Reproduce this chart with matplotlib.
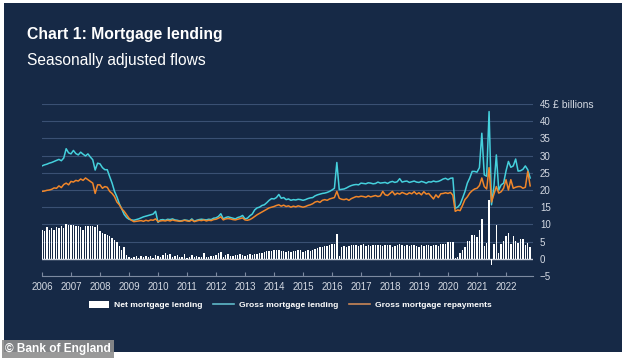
import numpy as np
import matplotlib
matplotlib.use("Agg")
from matplotlib import pyplot as plt
from matplotlib.patches import Rectangle, Patch
from matplotlib.lines import Line2D

plt.rcParams['font.family'] = ['Liberation Sans', 'DejaVu Sans']

# monthly, Jan 2006 - Nov 2022, £ billions
gross_lending = [
    27.0, 27.3, 27.5, 27.8, 28.0, 28.3, 28.6, 28.9, 28.5, 29.3, 32.0, 30.8,  # 2006
    30.5, 31.5, 30.6, 30.2, 31.0, 30.4, 29.9, 30.5, 29.6, 28.8, 25.8, 27.8,  # 2007
    27.6, 26.5, 25.9, 25.9, 23.9, 22.0, 19.6, 18.0, 16.0, 14.5, 12.9, 12.0,  # 2008
    11.5, 11.3, 11.2, 11.4, 11.6, 11.9, 12.2, 12.4, 12.6, 12.8, 13.0, 13.8,  # 2009
    10.6, 11.3, 11.4, 11.2, 11.5, 11.4, 11.6, 11.3, 11.2, 11.0, 11.1, 11.3,  # 2010
    11.2, 11.0, 11.6, 10.9, 11.2, 11.4, 11.5, 11.4, 11.3, 11.5, 11.4, 11.8,  # 2011
    11.9, 12.3, 13.1, 11.6, 12.0, 12.2, 12.0, 11.8, 11.6, 12.0, 12.2, 12.6,  # 2012
    11.6, 11.8, 12.5, 13.0, 14.2, 14.8, 15.0, 15.5, 15.7, 16.3, 17.0, 17.5,  # 2013
    17.4, 17.8, 18.7, 17.6, 17.8, 17.2, 17.4, 17.0, 17.2, 17.1, 17.3, 17.2,  # 2014
    17.0, 17.2, 17.5, 17.7, 17.8, 18.3, 18.6, 18.8, 19.0, 19.1, 19.3, 19.6,  # 2015
    20.0, 20.5, 28.0, 20.1, 20.2, 20.3, 20.6, 21.0, 21.3, 21.5, 21.6, 21.5,  # 2016
    22.0, 21.9, 21.8, 22.1, 22.0, 21.8, 21.9, 22.3, 22.0, 22.1, 22.2, 21.9,  # 2017
    22.3, 22.5, 22.2, 22.4, 23.3, 22.3, 22.5, 22.6, 22.2, 22.4, 22.6, 22.3,  # 2018
    22.2, 22.5, 22.3, 22.0, 22.4, 22.3, 22.6, 22.4, 22.5, 22.8, 23.2, 23.4,  # 2019
    23.0, 23.4, 23.5, 14.7, 15.0, 15.8, 17.6, 19.5, 22.0, 23.5, 25.4, 25.4,  # 2020
    25.2, 26.5, 36.5, 24.4, 24.0, 42.8, 15.7, 21.0, 30.2, 20.0, 21.5, 22.0,  # 2021
    25.5, 28.3, 26.6, 27.0, 29.0, 25.5, 25.6, 26.0, 27.0, 25.9, 23.5,        # 2022
]

gross_repayments = [
    19.6, 19.7, 19.9, 20.0, 20.2, 20.6, 20.5, 21.2, 20.7, 21.6, 22.0, 21.5,
    22.5, 22.3, 22.8, 22.6, 23.2, 22.8, 23.5, 23.0, 22.5, 22.0, 19.0, 21.5,
    21.5, 20.5, 21.0, 20.8, 19.6, 19.0, 18.1, 16.5, 15.7, 14.5, 13.8, 12.8,
    11.8, 11.2, 10.8, 10.9, 11.0, 11.1, 10.9, 11.2, 11.0, 11.3, 11.2, 11.6,
    10.8, 11.0, 11.1, 11.0, 11.2, 11.0, 11.3, 11.1, 11.0, 10.9, 11.0, 11.2,
    11.0, 10.9, 11.3, 10.8, 11.0, 11.2, 11.1, 11.3, 11.0, 11.2, 11.1, 11.4,
    11.5, 11.8, 12.2, 11.3, 11.6, 11.7, 11.6, 11.4, 11.3, 11.5, 11.7, 11.9,
    11.3, 11.2, 11.4, 11.8, 12.3, 12.8, 13.2, 13.6, 14.0, 14.4, 14.8, 15.0,
    15.2, 15.5, 15.7, 15.3, 15.6, 15.2, 15.4, 15.0, 15.3, 15.1, 15.4, 15.2,
    15.0, 15.2, 15.5, 15.7, 16.0, 16.5, 16.7, 16.4, 17.0, 17.2, 17.0, 17.4,
    17.6, 17.8, 19.6, 17.6, 17.3, 17.2, 17.4, 17.0, 17.5, 17.8, 18.1, 18.0,
    18.2, 18.1, 17.9, 18.3, 18.0, 18.2, 18.4, 18.1, 18.3, 19.6, 18.6, 18.4,
    19.0, 19.6, 18.6, 19.1, 18.8, 19.3, 19.0, 18.7, 19.2, 18.9, 19.5, 18.8,
    19.2, 18.6, 19.5, 18.8, 19.0, 18.2, 17.4, 18.6, 17.8, 18.9, 19.0, 19.2,
    19.0, 19.3, 18.5, 13.8, 14.2, 14.0, 15.5, 17.2, 18.0, 19.1, 19.8, 20.3,
    20.5, 21.3, 23.5, 21.0, 20.3, 26.5, 16.5, 18.8, 21.0, 19.1, 19.5, 20.5,
    23.0, 20.0, 23.0, 20.5, 20.8, 21.0, 21.0, 20.5, 20.8, 25.4, 21.2,
]

net_lending = [
    8.3, 8.0, 9.2, 8.5, 9.0, 8.4, 9.3, 8.9, 9.4, 9.0, 10.1, 9.8,
    9.8, 9.9, 9.6, 9.5, 9.2, 8.5, 9.5, 9.6, 9.5, 9.4, 9.3, 9.9,
    8.0, 7.5, 7.2, 6.9, 6.5, 6.0, 5.5, 5.0, 3.7, 2.5, 3.5, 1.2,
    0.5, 0.3, 0.5, 0.8, 0.2, 0.9, 0.4, 0.7, 0.6, 0.9, 0.3, 1.0,
    0.8, 0.6, 1.0, 1.6, 1.2, 1.3, 0.5, 0.8, 1.2, 0.4, 0.6, 1.5,
    0.3, 0.6, 1.2, 0.5, 0.8, 0.6, 0.4, 1.8, 0.5, 0.6, 0.7, 0.9,
    1.1, 1.6, 2.1, 0.6, 1.0, 1.3, 0.9, 0.7, 1.0, 1.2, 1.4, 1.1,
    0.8, 1.0, 1.4, 1.2, 1.5, 1.4, 1.6, 1.8, 2.0, 2.3, 2.3, 2.4,
    2.6, 2.7, 2.5, 2.3, 2.4, 2.1, 2.4, 2.0, 2.3, 2.2, 2.6, 2.5,
    2.1, 2.3, 2.5, 2.4, 2.6, 2.9, 3.1, 3.3, 3.4, 3.6, 3.7, 4.0,
    4.3, 4.4, 7.2, 0.9, 3.4, 3.6, 3.5, 3.6, 3.9, 4.0, 4.0, 3.8,
    4.1, 4.2, 3.8, 4.0, 3.6, 3.9, 4.1, 4.0, 3.9, 3.7, 4.0, 4.1,
    3.9, 3.5, 3.7, 4.0, 4.2, 4.1, 3.8, 3.9, 3.6, 4.0, 4.1, 3.8,
    3.5, 3.9, 3.7, 4.0, 4.1, 3.8, 3.9, 4.1, 3.7, 4.3, 4.4, 4.2,
    4.9, 5.0, 4.8, 0.1, 0.5, 1.8, 2.7, 3.4, 5.3, 5.2, 7.0, 7.0,
    6.4, 8.3, 11.6, 3.6, 4.7, 17.2, -1.9, 4.4, 9.7, 1.7, 4.4, 5.3,
    6.7, 7.6, 4.4, 6.7, 5.3, 4.7, 5.9, 5.9, 3.9, 4.7, 3.5,
]

years = list(range(2006, 2023))
y_ticks = list(range(-5, 50, 5))

navy = '#162946'
cyan = '#45d0dc'
orange = '#f0862a'
light = '#d5dae3'

x = 2006 + np.arange(len(gross_lending)) / 12

fig = plt.figure(figsize=(6.31, 3.59), dpi=100, facecolor='white')
fig.patches.append(Rectangle((4 / 631, 1 - 352 / 359), 618 / 631, 349 / 359,
                             transform=fig.transFigure, facecolor=navy, edgecolor='none', zorder=-10))

ax = fig.add_axes([42 / 631, 1 - 276 / 359, 491 / 631, 172 / 359])
ax.set_zorder(1)
ax.set_facecolor(navy)
ax.bar(x, net_lending, width=0.05, color='white', zorder=3)
ax.plot(x, gross_lending, color=cyan, lw=1.1, zorder=4)
ax.plot(x, gross_repayments, color=orange, lw=1.1, zorder=4)
ax.axhline(0, color='#c9ced8', lw=1.0, zorder=2)

ax.set_xlim(2006, 2006 + 491 / 29.0)
ax.set_ylim(-5, 45)
ax.set_xticks(years)
ax.set_xticklabels([str(y) for y in years])
ax.set_yticks(y_ticks)
ax.yaxis.tick_right()
ax.grid(axis='y', color='#3a5073', lw=0.8, zorder=1)
ax.tick_params(axis='y', length=0, labelsize=7, labelcolor=light, pad=5)
ax.tick_params(axis='x', direction='in', length=3, color='#7d8aa0', labelsize=7,
               labelcolor=light, pad=4)
for s in ['top', 'right', 'left']:
    ax.spines[s].set_visible(False)
ax.spines['bottom'].set_color('#7d8aa0')
ax.spines['bottom'].set_linewidth(0.8)

fig.text(27 / 631, 1 - 35 / 359, "Chart 1: Mortgage lending", color='white',
         fontsize=11.3, fontweight='bold', va='center')
fig.text(27 / 631, 1 - 60 / 359, "Seasonally adjusted flows", color='white',
         fontsize=11.2, va='center')
fig.text(553 / 631, 1 - 105 / 359, "£ billions", color=light, fontsize=7.5, va='center')

handles = [Patch(facecolor='white', edgecolor='none'),
           Line2D([], [], color='#5fb8c8', lw=1.2),
           Line2D([], [], color='#c98656', lw=1.2)]
labels = ["Net mortgage lending", "Gross mortgage lending", "Gross mortgage repayments"]
fig.legend(handles, labels, loc='center', bbox_to_anchor=(290 / 631, 1 - 305 / 359),
           ncol=3, frameon=False, handlelength=2.4, handleheight=1.0, columnspacing=1.3,
           handletextpad=0.6, labelcolor='white', prop={'size': 6.1, 'weight': 'bold'})

fig.text(5 / 631, 1 - 349 / 359, "© Bank of England", color='white', fontsize=8.6,
         fontweight='bold', va='center',
         bbox=dict(facecolor='#8e8e8e', alpha=0.9, edgecolor='none', pad=2.5))

fig.savefig("out.png", dpi=100, facecolor=fig.get_facecolor())
